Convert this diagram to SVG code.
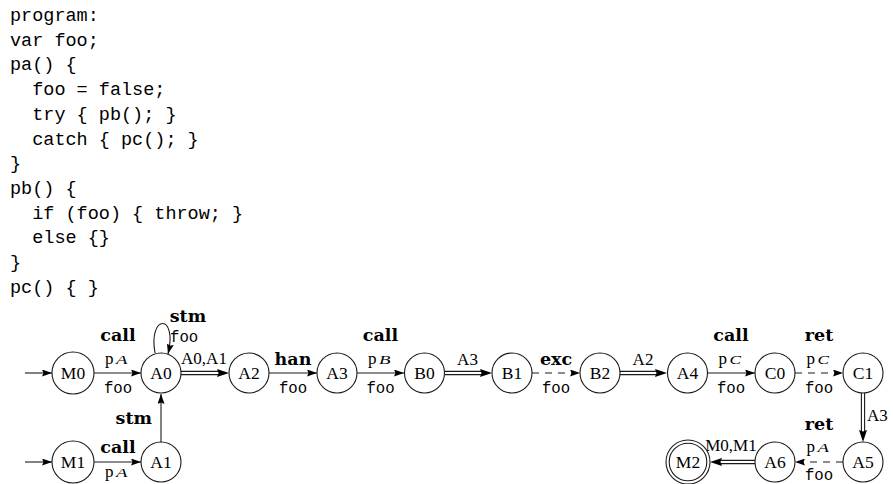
<svg xmlns="http://www.w3.org/2000/svg" width="893" height="484" viewBox="0 0 893 484">
<defs>
<style>
.code{font-family:"Liberation Mono","DejaVu Sans Mono",monospace;font-size:18.5px;fill:#000}
.nd circle{fill:#fff;stroke:#1a1a1a;stroke-width:1.1}
.nl{font-family:"Liberation Serif","Times New Roman",serif;font-size:17.5px;fill:#000;text-anchor:middle}
.el{font-family:"Liberation Serif","Times New Roman",serif;font-size:17px;fill:#000}
.b{font-family:"DejaVu Serif",serif;font-weight:bold;font-size:17.5px;fill:#000;text-anchor:middle}
.tt{font-family:"Liberation Mono",monospace;font-size:15.7px;fill:#000;text-anchor:middle}
.sub{font-family:"Liberation Serif",serif;font-style:italic;font-size:12px;fill:#000}
.ln{stroke:#1a1a1a;stroke-width:1.1;fill:none}
.da{stroke-dasharray:7 6}
.ah{marker-end:url(#arr)}
.ahd{marker-end:url(#arrd)}
</style>
<marker id="arr" viewBox="0 0 10 7" refX="10" refY="3.5" markerWidth="10" markerHeight="7" markerUnits="userSpaceOnUse" orient="auto">
<path d="M0,0 L10,3.5 L0,7 L1.5,3.5 z" fill="#000"/>
</marker>
<marker id="arrd" viewBox="0 0 12 8" refX="12" refY="4" markerWidth="12" markerHeight="8" markerUnits="userSpaceOnUse" orient="auto">
<path d="M0,0 L12,4 L0,8 L1.5,4 z" fill="#000"/>
</marker>
</defs>
<g id="code">
<text class="code" x="10" y="21">program:</text>
<text class="code" x="10" y="45.7">var foo;</text>
<text class="code" x="10" y="70.4">pa() {</text>
<text class="code" x="32.2" y="95.1">foo = false;</text>
<text class="code" x="32.2" y="119.8">try { pb(); }</text>
<text class="code" x="32.2" y="144.5">catch { pc(); }</text>
<text class="code" x="10" y="169.2">}</text>
<text class="code" x="10" y="193.9">pb() {</text>
<text class="code" x="32.2" y="218.6">if (foo) { throw; }</text>
<text class="code" x="32.2" y="243.3">else {}</text>
<text class="code" x="10" y="268">}</text>
<text class="code" x="10" y="292.7">pc() { }</text>
</g>
<g id="connectors">
<path class="ln ah" d="M25,373 H52"/>
<path class="ln ah" d="M25,462 H52"/>
<g id="e-M0-A0">
<path class="ln ah" d="M94,373 H141"/>
<text class="b" x="118" y="341">call</text>
<text class="el" x="105" y="364">p</text><text class="sub" x="116" y="364" textLength="11.5" lengthAdjust="spacingAndGlyphs">A</text>
<text class="tt" x="118" y="392.5">foo</text>
</g>
<g id="e-A0-loop">
<path class="ln ah" d="M155,353 C148,314 178,313 168,354"/>
<text class="b" x="188" y="322">stm</text>
<text class="tt" x="170" y="342" style="text-anchor:start">foo</text>
</g>
<g id="e-A0-A2">
<path class="ln" d="M181,371.4 H219 M181,374.6 H219"/>
<path class="ahd" d="M181,373 H229" stroke="none"/>
<text class="el" x="204" y="364" style="text-anchor:middle">A0,A1</text>
</g>
<g id="e-M1-A1">
<path class="ln ah" d="M94,462 H141"/>
<text class="b" x="118" y="453">call</text>
<text class="el" x="105" y="477">p</text><text class="sub" x="116" y="477" textLength="11.5" lengthAdjust="spacingAndGlyphs">A</text>
</g>
<g id="e-A1-A0">
<path class="ln ah" d="M161,442 V394"/>
<text class="b" x="152" y="424" style="text-anchor:end">stm</text>
</g>
<g id="e-A2-A3">
<path class="ln ah" d="M269,373 H317"/>
<text class="b" x="293" y="365">han</text>
<text class="tt" x="293" y="392.5">foo</text>
</g>
<g id="e-A3-B0">
<path class="ln ah" d="M357,373 H404"/>
<text class="b" x="380.5" y="341">call</text>
<text class="el" x="368" y="364">p</text><text class="sub" x="379" y="364" textLength="11.5" lengthAdjust="spacingAndGlyphs">B</text>
<text class="tt" x="380.5" y="392.5">foo</text>
</g>
<g id="e-B0-B1">
<path class="ln" d="M445,371.4 H482 M445,374.6 H482"/>
<path class="ahd" d="M445,373 H492" stroke="none"/>
<text class="el" x="467.5" y="365" style="text-anchor:middle">A3</text>
</g>
<g id="e-B1-B2">
<path class="ln da ah" d="M532,373 H580"/>
<text class="b" x="556" y="365">exc</text>
<text class="tt" x="556" y="392.5">foo</text>
</g>
<g id="e-B2-A4">
<path class="ln" d="M620,371.4 H657 M620,374.6 H657"/>
<path class="ahd" d="M620,373 H667" stroke="none"/>
<text class="el" x="643" y="365" style="text-anchor:middle">A2</text>
</g>
<g id="e-A4-C0">
<path class="ln ah" d="M708,373 H755"/>
<text class="b" x="731" y="341">call</text>
<text class="el" x="718.5" y="364">p</text><text class="sub" x="729.5" y="364" textLength="11.5" lengthAdjust="spacingAndGlyphs">C</text>
<text class="tt" x="731" y="392.5">foo</text>
</g>
<g id="e-C0-C1">
<path class="ln da ah" d="M795,373 H843"/>
<text class="b" x="819" y="341">ret</text>
<text class="el" x="806.5" y="364">p</text><text class="sub" x="817.5" y="364" textLength="11.5" lengthAdjust="spacingAndGlyphs">C</text>
<text class="tt" x="819" y="392.5">foo</text>
</g>
<g id="e-C1-A5">
<path class="ln" d="M861.4,393 V432 M864.6,393 V432"/>
<path class="ahd" d="M863,393 V442" stroke="none"/>
<text class="el" x="867" y="421">A3</text>
</g>
<g id="e-A5-A6">
<path class="ln da ah" d="M843,462 H795"/>
<text class="b" x="819" y="430">ret</text>
<text class="el" x="806.5" y="452">p</text><text class="sub" x="817.5" y="452" textLength="11.5" lengthAdjust="spacingAndGlyphs">A</text>
<text class="tt" x="819" y="479.5">foo</text>
</g>
<g id="e-A6-M2">
<path class="ln" d="M755,460.4 H720 M755,463.6 H720"/>
<path class="ahd" d="M755,462 H710" stroke="none"/>
<text class="el" x="731" y="451" style="text-anchor:middle">M0,M1</text>
</g>
</g>
<g id="M0" class="nd"><circle cx="73" cy="373" r="21"/><text class="nl" x="73" y="379">M0</text></g>
<g id="A0" class="nd"><circle cx="161" cy="373" r="20"/><text class="nl" x="161" y="379">A0</text></g>
<g id="A2" class="nd"><circle cx="249" cy="373" r="20"/><text class="nl" x="249" y="379">A2</text></g>
<g id="A3" class="nd"><circle cx="337" cy="373" r="20"/><text class="nl" x="337" y="379">A3</text></g>
<g id="B0" class="nd"><circle cx="424.5" cy="373" r="20"/><text class="nl" x="424.5" y="379">B0</text></g>
<g id="B1" class="nd"><circle cx="512" cy="373" r="20"/><text class="nl" x="512" y="379">B1</text></g>
<g id="B2" class="nd"><circle cx="600" cy="373" r="20"/><text class="nl" x="600" y="379">B2</text></g>
<g id="A4" class="nd"><circle cx="687.5" cy="373" r="20"/><text class="nl" x="687.5" y="379">A4</text></g>
<g id="C0" class="nd"><circle cx="775" cy="373" r="20"/><text class="nl" x="775" y="379">C0</text></g>
<g id="C1" class="nd"><circle cx="863" cy="373" r="20"/><text class="nl" x="863" y="379">C1</text></g>
<g id="M1" class="nd"><circle cx="73" cy="462" r="21"/><text class="nl" x="73" y="468">M1</text></g>
<g id="A1" class="nd"><circle cx="161" cy="462" r="20"/><text class="nl" x="161" y="468">A1</text></g>
<g id="M2" class="nd"><circle cx="688" cy="462" r="22"/><circle cx="688" cy="462" r="18.8"/><text class="nl" x="688" y="468">M2</text></g>
<g id="A6" class="nd"><circle cx="775" cy="462" r="20"/><text class="nl" x="775" y="468">A6</text></g>
<g id="A5" class="nd"><circle cx="863" cy="462" r="20"/><text class="nl" x="863" y="468">A5</text></g>
</svg>
